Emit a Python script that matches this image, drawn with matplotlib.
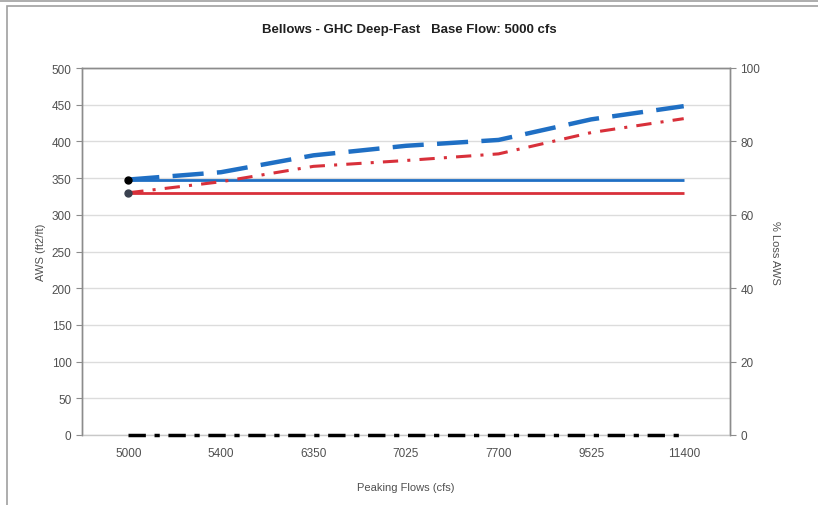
import matplotlib.pyplot as plt
from matplotlib.lines import Line2D
from matplotlib.patches import Rectangle

plt.rcParams["font.family"] = ["Liberation Sans", "DejaVu Sans"]

peaking_flows = ["5000", "5400", "6350", "7025", "7700", "9525", "11400"]
aws_base_blue = [348, 348, 348, 348, 348, 348, 348]
aws_base_red = [330, 330, 330, 330, 330, 330, 330]
aws_peak_blue = [348, 358, 381, 394, 402, 430, 448]
aws_peak_red = [330, 345, 366, 374, 383, 412, 431]
pct_loss = [0, 0, 0, 0, 0, 0, 0]

blue = "#1f6fc4"
red = "#d8303a"
grey_text = "#505050"

fig = plt.figure(figsize=(8.18, 5.06), dpi=100)
ax = fig.add_axes([82 / 818, 1 - 436 / 506, 648 / 818, 367 / 506])
ax2 = ax.twinx()

x = list(range(len(peaking_flows)))

ax.plot(x, aws_base_blue, color=blue, lw=2, solid_capstyle="butt", zorder=3)
ax.plot(x, aws_base_red, color=red, lw=2, solid_capstyle="butt", zorder=3)
ax.plot(x, aws_peak_blue, color=blue, lw=3.2, dashes=(7, 3), zorder=4)
ax.plot(x, aws_peak_red, color=red, lw=2.2, dashes=(5, 3, 1, 3), zorder=4)
ax.plot(x[0], aws_base_blue[0], "o", color="black", ms=5, zorder=5)
ax.plot(x[0], aws_base_red[0], "o", color="#3a4150", ms=5, zorder=5)

ax2.plot(x, pct_loss, color="black", lw=2.5, dashes=(5, 2.5, 1.5, 2.5), clip_on=False, zorder=4)

ax.set_xlim(-0.5, len(peaking_flows) - 0.5)
ax.set_ylim(0, 500)
ax.set_yticks(range(0, 501, 50))
ax2.set_ylim(0, 100)
ax2.set_yticks(range(0, 101, 20))
ax.set_xticks(x)
ax.set_xticklabels(peaking_flows)

ax.grid(axis="y", color="#dcdcdc", lw=1)
ax.set_axisbelow(True)

for a in (ax, ax2):
    a.tick_params(axis="both", labelsize=8.5, colors=grey_text, length=4, width=0.8,
                  color="#8c8c8c")
    for s in a.spines.values():
        s.set_color("#8c8c8c")
        s.set_linewidth(1)
ax.spines["bottom"].set_color("#c8c8c8")
ax.tick_params(axis="x", length=0, pad=9)
ax2.spines["bottom"].set_visible(False)

ax.set_xlabel("Peaking Flows (cfs)", fontsize=8, color=grey_text, labelpad=16)
ax.set_ylabel("AWS (ft2/ft)", fontsize=8, color=grey_text, labelpad=4)
ax2.set_ylabel("% Loss AWS", fontsize=8, color=grey_text, rotation=270, labelpad=14)

fig.text(0.5, 1 - 30 / 506, "Bellows - GHC Deep-Fast   Base Flow: 5000 cfs",
         ha="center", va="center", fontsize=9.5, fontweight="bold", color="#202020")

# outer chart border
fig.add_artist(Rectangle((7 / 818, -0.1), 1.1, 1 - 7 / 506 + 0.1, transform=fig.transFigure,
                         fill=False, edgecolor="#a0a0a0", lw=1.2))
fig.add_artist(Line2D([0, 1], [1 - 1.5 / 506, 1 - 1.5 / 506], transform=fig.transFigure,
                      color="#a0a0a0", lw=1.2))

plt.savefig("out.png", dpi=100)
